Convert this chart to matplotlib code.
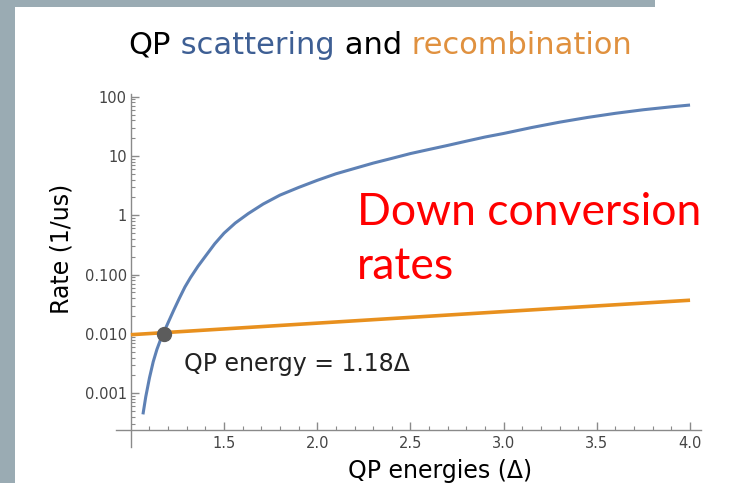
import numpy as np
import matplotlib
matplotlib.use("Agg")
from matplotlib import pyplot as plt
from matplotlib.patches import Rectangle

# scattering rate (1/us) vs QP energy (units of gap)
scatter_e = [1.065, 1.08, 1.10, 1.12, 1.14, 1.16, 1.18, 1.20, 1.23, 1.26, 1.29, 1.32,
             1.36, 1.40, 1.45, 1.50, 1.56, 1.63, 1.71, 1.80, 1.90, 2.00, 2.10, 2.20,
             2.30, 2.40, 2.50, 2.60, 2.70, 2.80, 2.90, 3.00, 3.15, 3.30, 3.45, 3.60,
             3.75, 3.90, 4.00]
scatter_rate = [4.4e-4, 8.7e-4, 1.82e-3, 3.39e-3, 5.5e-3, 8.1e-3, 0.0112, 0.0155,
                0.0251, 0.0398, 0.0617, 0.0891, 0.138, 0.204, 0.331, 0.50, 0.74,
                1.07, 1.55, 2.19, 2.95, 3.89, 5.01, 6.17, 7.59, 9.12, 11.0, 12.9,
                15.1, 17.8, 20.9, 24.0, 30.2, 37.2, 44.7, 52.5, 60.3, 67.6, 72.4]

# recombination rate
recomb_e = [1.0, 2.0, 3.0, 4.0]
recomb_rate = [0.0097, 0.0152, 0.0238, 0.037]

cross_e = 1.18
cross_rate = 0.010

x_ticks = [1.5, 2.0, 2.5, 3.0, 3.5, 4.0]
y_ticks = [1e-3, 1e-2, 1e-1, 1, 10, 100]
y_labels = ["0.001", "0.010", "0.100", "1", "10", "100"]

blue = "#5E81B5"
orange = "#E8901E"
tick_grey = "#8a8a8a"

fig = plt.figure(figsize=(7.46, 4.83), dpi=100)
fig.patch.set_facecolor("white")

# slide border
border = "#9AABB3"
fig.add_artist(Rectangle((0, 0), 15 / 746, 1, transform=fig.transFigure,
                         facecolor=border, edgecolor="none", zorder=0))
fig.add_artist(Rectangle((0, 1 - 7 / 483), 655 / 746, 7 / 483, transform=fig.transFigure,
                         facecolor=border, edgecolor="none", zorder=0))

ax = fig.add_axes([0.1554, 0.0745, 0.7846, 0.7308])
ax.patch.set_alpha(0)
ax.set_yscale("log")
ax.set_xlim(0.92, 4.06)
ax.set_ylim(10 ** -3.907, 10 ** 2.045)

ax.plot(scatter_e, scatter_rate, color=blue, lw=2.2, solid_capstyle="butt", zorder=3)
ax.plot(recomb_e, recomb_rate, color=orange, lw=2.6, solid_capstyle="butt", zorder=3)
ax.plot([cross_e], [cross_rate], "o", color="#5c5c5c", ms=10, zorder=4)

ax.spines["top"].set_visible(False)
ax.spines["right"].set_visible(False)
ax.spines["left"].set_position(("data", 1.0))
ax.spines["bottom"].set_position(("data", 10 ** -3.62))
for s in ("left", "bottom"):
    ax.spines[s].set_color(tick_grey)
    ax.spines[s].set_linewidth(1.0)

ax.set_xticks(x_ticks)
ax.set_xticklabels([f"{v:.1f}" for v in x_ticks])
ax.set_xticks(np.arange(1.1, 4.05, 0.1), minor=True)
ax.set_yticks(y_ticks)
ax.set_yticklabels(y_labels)
minor_y = [m * 10.0 ** k for k in range(-4, 2) for m in range(2, 10)]
minor_y = [v for v in minor_y if 10 ** -3.62 < v < 100]
ax.set_yticks(minor_y, minor=True)
ax.yaxis.set_minor_formatter(plt.NullFormatter())

ax.tick_params(which="both", direction="in", color=tick_grey, labelcolor="#444444",
               labelsize=10.5)
ax.tick_params(which="major", length=6, width=1.0)
ax.tick_params(which="minor", length=3, width=0.8)
ax.tick_params(axis="x", pad=4)
ax.tick_params(axis="y", pad=3)

ax.set_xlabel("QP energies (Δ)", fontsize=17)
ax.xaxis.set_label_coords(0.554, -0.035, transform=ax.transAxes)
ax.set_ylabel("Rate (1/us)", fontsize=17)
ax.yaxis.set_label_coords(-0.072, 0.561, transform=ax.transAxes)

ax.text(1.285, 10 ** -2.5, "QP energy = 1.18Δ", fontsize=17, color="#222222",
        va="center", ha="left")

ax.text(2.215, 10 ** -0.17, "Down conversion", fontsize=32, color="#FF0000",
        family="Lato", va="baseline", ha="left")
ax.text(2.215, 10 ** -1.07, "rates", fontsize=32, color="#FF0000",
        family="Lato", va="baseline", ha="left")

# title with coloured words
parts = [("QP", "black"), (" scattering", "#3E5F94"), (" and", "black"),
         (" recombination", "#E0913F")]
texts = [fig.text(0, 1 - 45 / 483, s, color=c, fontsize=22, va="center", ha="left")
         for s, c in parts]
fig.canvas.draw()
renderer = fig.canvas.get_renderer()
widths = [t.get_window_extent(renderer).width / fig.bbox.width for t in texts]
x = 380 / 746 - sum(widths) / 2
for t, w in zip(texts, widths):
    t.set_x(x)
    x += w

fig.savefig("out.png", dpi=100)
